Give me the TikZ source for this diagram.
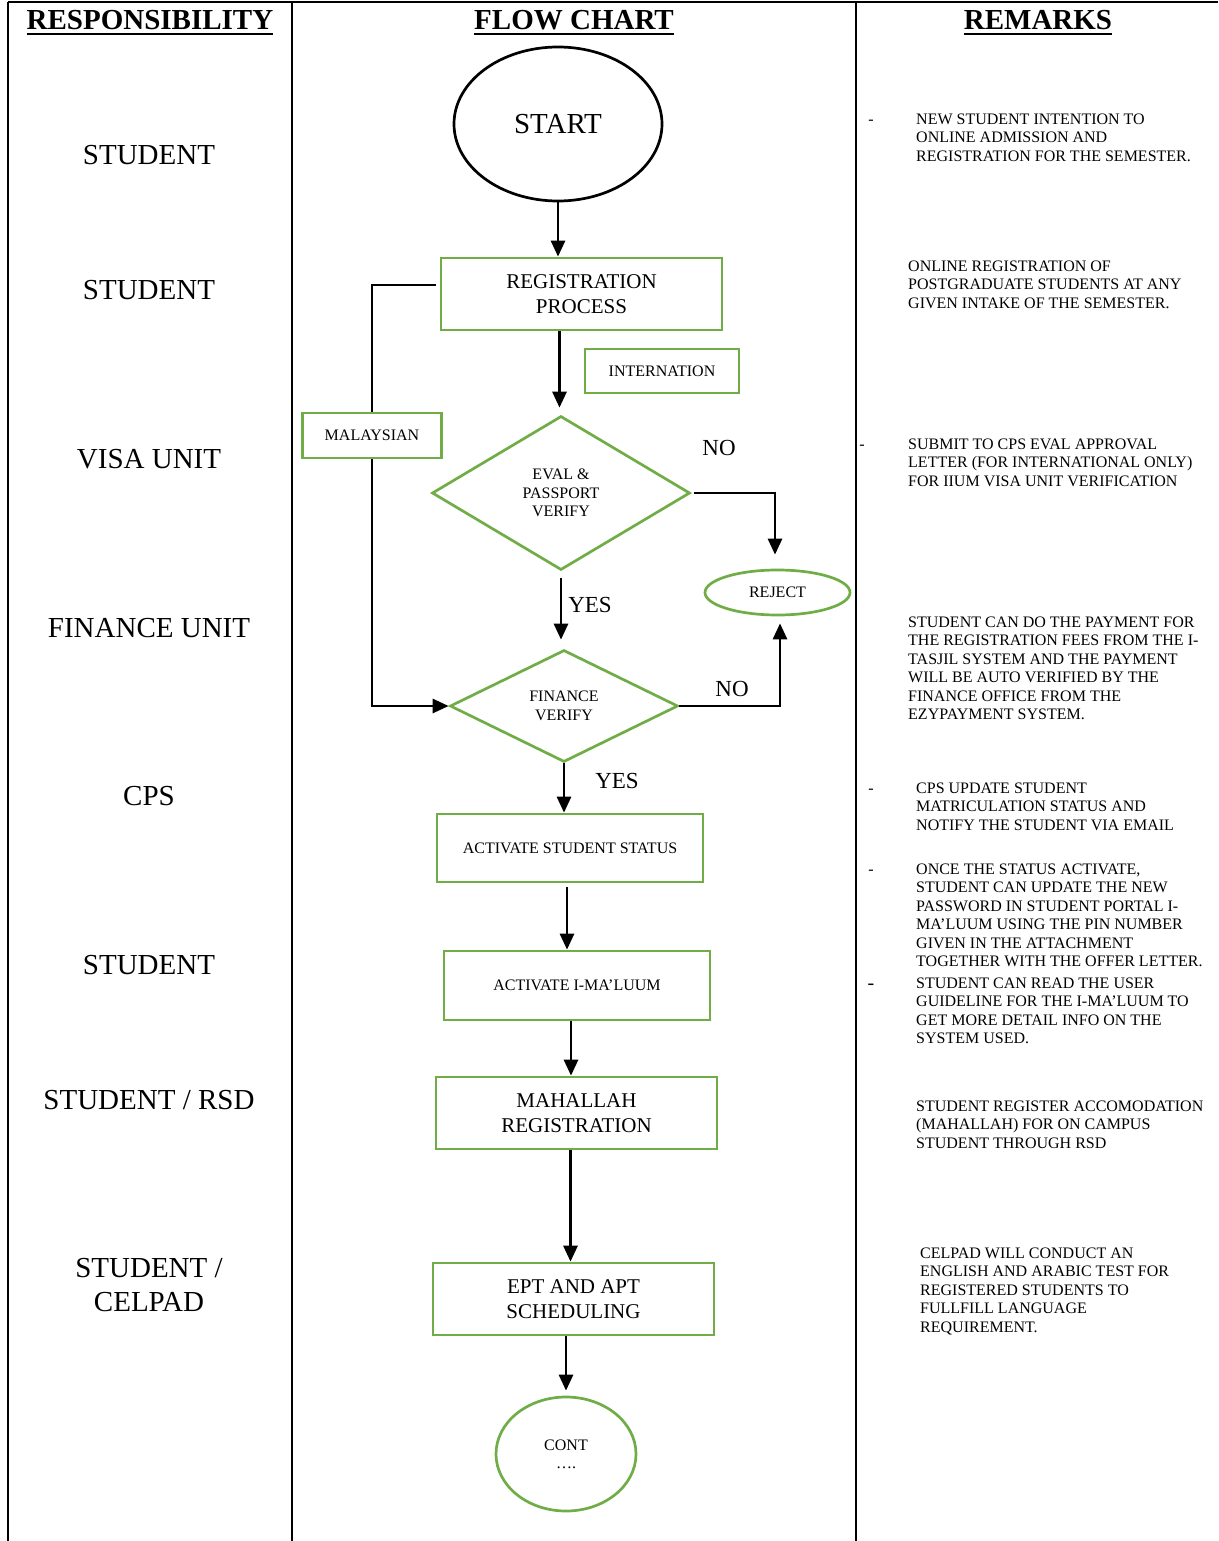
\documentclass[tikz,border=0pt]{standalone}
\usepackage{fontspec}
\setmainfont{Liberation Serif}
\usetikzlibrary{shapes.geometric,arrows.meta}
\definecolor{grn}{HTML}{70AD47}
\newcommand\myBig{\fontsize{29}{34}\selectfont}
\newcommand\myMid{\fontsize{21}{25}\selectfont}
\newcommand\mySmall{\fontsize{16}{18.4}\selectfont}
\newcommand\myYN{\fontsize{23}{27}\selectfont}
\tikzset{
  tbl/.style={line width=2pt},
  gbox/.style={draw=grn, line width=2.7pt, rectangle, inner sep=0pt, align=center},
  gdia/.style={draw=grn, line width=2.7pt, diamond, aspect=1.67, inner sep=0pt, align=center, font=\mySmall},
  gell/.style={draw=grn, line width=2.7pt, ellipse, inner sep=0pt, align=center, font=\mySmall},
  arr/.style={line width=2.8pt, -{Triangle[length=16pt,width=14pt]}},
  ln/.style={line width=2.8pt},
  lab/.style={font=\myBig, anchor=base, inner sep=0pt},
  rem/.style={font=\mySmall, anchor=north west, align=left, inner sep=0pt},
  dsh/.style={font=\mySmall, anchor=base, inner sep=0pt},
  hdr/.style={font=\myBig\bfseries, anchor=base, inner sep=0pt},
  yn/.style={font=\myYN, inner sep=0pt}
}
\begin{document}
\begin{tikzpicture}[x=1pt,y=-1pt]
\useasboundingbox (0,0) rectangle (1218,1541);
% table
\coordinate (tl) at (8,2);
\coordinate (tr) at (1218,2);
\coordinate (bl) at (8,1541);
\coordinate (c1t) at (292,2);
\coordinate (c1b) at (292,1541);
\coordinate (c2t) at (856,2);
\coordinate (c2b) at (856,1541);
\draw[tbl] (tl) -- (tr);
\draw[tbl] (tl) -- (bl);
\draw[tbl] (c1t) -- (c1b);
\draw[tbl] (c2t) -- (c2b);
% headers
\node[hdr] (h1) at (150,30) {RESPONSIBILITY};
\node[hdr] (h2) at (574,30) {FLOW CHART};
\node[hdr] (h3) at (1038,30) {REMARKS};
\foreach \h in {h1,h2,h3}{
  \draw[line width=2.2pt] ([yshift=-3.5pt]\h.south west) -- ([yshift=-3.5pt]\h.south east);
}
% responsibility labels
\node[lab] (l1) at (149,164.6) {STUDENT};
\node[lab] (l2) at (149,299.6) {STUDENT};
\node[lab] (l3) at (149,468.6) {VISA UNIT};
\node[lab] (l4) at (149,637.6) {FINANCE UNIT};
\node[lab] (l5) at (149,805.6) {CPS};
\node[lab] (l6) at (149,974.6) {STUDENT};
\node[lab] (l7) at (149,1109.6) {STUDENT / RSD};
\node[font=\myBig, anchor=north, align=center, inner sep=0pt] (l8) at (149,1258.5) {STUDENT /\\CELPAD};
% flowchart nodes
\node[draw=black, line width=2.7pt, ellipse, minimum width=208pt, minimum height=154pt, inner sep=0pt, font=\myBig] (start) at (558,124) {START};
\node[gbox, minimum width=281pt, minimum height=72pt, font=\myMid] (reg) at (581.5,294) {REGISTRATION\\PROCESS};
\node[gbox, minimum width=154pt, minimum height=44pt, font=\mySmall] (intl) at (662,371) {INTERNATION};
\node[gbox, minimum width=139pt, minimum height=45pt, font=\mySmall] (mal) at (372,435.5) {MALAYSIAN};
\node[gdia, minimum width=258pt, minimum height=154pt] (eval) at (561,493) {EVAL \&\\PASSPORT\\VERIFY};
\node[gell, minimum width=145pt, minimum height=45pt] (rej) at (777.5,592.5) {REJECT};
\node[gdia, minimum width=228pt, minimum height=112pt] (fin) at (564,706) {FINANCE\\VERIFY};
\node[gbox, minimum width=266pt, minimum height=68pt, font=\mySmall] (act1) at (570,848) {ACTIVATE STUDENT STATUS};
\node[gbox, minimum width=266pt, minimum height=69pt, font=\mySmall] (act2) at (577,985.5) {ACTIVATE I-MA’LUUM};
\node[gbox, minimum width=281pt, minimum height=72pt, font=\myMid] (mah) at (576.5,1113) {MAHALLAH\\REGISTRATION};
\node[gbox, minimum width=281pt, minimum height=72pt, font=\myMid] (ept) at (573.5,1299) {EPT AND APT\\SCHEDULING};
\node[gell, minimum width=140pt, minimum height=114pt] (cont) at (566,1454) {CONT\\….};
% connectors
\draw[arr] (start.south) -- (start.south |- reg.north);
\draw[arr, shorten >=7pt] ([xshift=-22pt]reg.south) -- ([xshift=-22pt]reg.south |- eval.north);
\draw[ln] ([xshift=-4pt,yshift=9pt]reg.west) -| (mal.north);
\draw[arr] (mal.south) |- (fin.west);
\draw[arr, shorten >=14pt] ([xshift=3pt]eval.east) -| ([xshift=-2.5pt]rej.north);
\draw[arr, shorten <=7pt, shorten >=9pt] (eval.south) -- (eval.south |- fin.north);
\draw[arr, shorten >=7pt] (fin.east) -| ([xshift=2.5pt]rej.south);
\draw[arr] (fin.south) -- (fin.south |- act1.north);
\draw[arr, shorten <=4pt] ([xshift=-3pt]act1.south) -- ([xshift=-3pt]act1.south |- act2.north);
\draw[arr] ([xshift=-6pt]act2.south) -- ([xshift=-6pt]act2.south |- mah.north);
\draw[arr] ([xshift=-6pt]mah.south) -- ([xshift=-6pt]mah.south |- ept.north);
\draw[arr, shorten >=5pt] (cont.north |- ept.south) -- (cont.north);
% connector labels
\node[yn] (no1) at (719,448) {NO};
\node[yn] (yes1) at (590,605) {YES};
\node[yn] (no2) at (732,689) {NO};
\node[yn] (yes2) at (617,781) {YES};
% remarks
\node[dsh] (d1) at (871,124.3) {-};
\node[rem] (r1) at (916,113.7) {NEW STUDENT INTENTION TO\\ONLINE ADMISSION AND\\REGISTRATION FOR THE SEMESTER.};
\node[rem] (r2) at (908,260.7) {ONLINE REGISTRATION OF\\POSTGRADUATE STUDENTS AT ANY\\GIVEN INTAKE OF THE SEMESTER.};
\node[dsh] (d3) at (862,449.3) {-};
\node[rem] (r3) at (908,438.7) {SUBMIT TO CPS EVAL APPROVAL\\LETTER (FOR INTERNATIONAL ONLY)\\FOR IIUM VISA UNIT VERIFICATION};
\node[rem] (r4) at (908,616.7) {STUDENT CAN DO THE PAYMENT FOR\\THE REGISTRATION FEES FROM THE I-\\TASJIL SYSTEM AND THE PAYMENT\\WILL BE AUTO VERIFIED BY THE\\FINANCE OFFICE FROM THE\\EZYPAYMENT SYSTEM.};
\node[dsh] (d5) at (871,793.3) {-};
\node[rem] (r5) at (916,782.7) {CPS UPDATE STUDENT\\MATRICULATION STATUS AND\\NOTIFY THE STUDENT VIA EMAIL};
\node[dsh] (d6) at (871,874.3) {-};
\node[rem] (r6) at (916,863.7) {ONCE THE STATUS ACTIVATE,\\STUDENT CAN UPDATE THE NEW\\PASSWORD IN STUDENT PORTAL I-\\MA’LUUM USING THE PIN NUMBER\\GIVEN IN THE ATTACHMENT\\TOGETHER WITH THE OFFER LETTER.};
\node[dsh, font=\fontsize{20}{22}\selectfont] (d7) at (871,989) {-};
\node[rem] (r7) at (916,977.7) {STUDENT CAN READ THE USER\\GUIDELINE FOR THE I-MA’LUUM TO\\GET MORE DETAIL INFO ON THE\\SYSTEM USED.};
\node[rem] (r8) at (916,1100.7) {STUDENT REGISTER ACCOMODATION\\(MAHALLAH) FOR ON CAMPUS\\STUDENT THROUGH RSD};
\node[rem] (r9) at (920,1247.7) {CELPAD WILL CONDUCT AN\\ENGLISH AND ARABIC TEST FOR\\REGISTERED STUDENTS TO\\FULLFILL LANGUAGE\\REQUIREMENT.};
\end{tikzpicture}
\end{document}
